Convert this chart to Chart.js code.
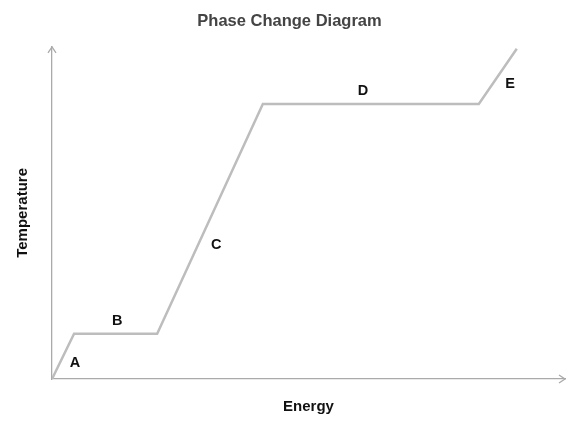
<!DOCTYPE html>
<html><head><meta charset="utf-8">
<script src="https://cdn.jsdelivr.net/npm/chart.js@4"></script>
<style>html,body{margin:0;padding:0;background:#fff}#wrap{width:574px;height:433px}</style>
</head><body><div id="wrap"><canvas id="c"></canvas></div>
<script>
const energy = [0, 4.3, 20.5, 41.1, 83.2, 90.6];
const temperature = [0, 13.6, 13.6, 82.8, 82.8, 99.4];
const labelText = ['A', 'B', 'C', 'D', 'E'];
const labelX = [4.5, 12.7, 32.0, 60.6, 89.3];
const labelY = [4.8, 17.5, 40.4, 86.7, 88.9];

const FONT = "'Liberation Sans', Arial, sans-serif";

const overlay = {
  id: 'overlay',
  afterDraw(chart) {
    const ctx = chart.ctx, x = chart.scales.x, y = chart.scales.y;
    const a = chart.chartArea;
    ctx.save();
    ctx.strokeStyle = '#aaaaaa';
    ctx.lineWidth = 1.3;
    ctx.beginPath();
    ctx.moveTo(a.left - 4, a.top + 6); ctx.lineTo(a.left, a.top); ctx.lineTo(a.left + 4, a.top + 6);
    ctx.moveTo(a.right - 6, a.bottom - 4); ctx.lineTo(a.right, a.bottom); ctx.lineTo(a.right - 6, a.bottom + 4);
    ctx.stroke();
    ctx.fillStyle = '#111';
    ctx.font = "bold 14.5px " + FONT;
    ctx.textAlign = 'center';
    ctx.textBaseline = 'middle';
    labelText.forEach((t, i) => {
      ctx.fillText(t, x.getPixelForValue(labelX[i]), y.getPixelForValue(labelY[i]));
    });
    ctx.restore();
  }
};

new Chart(document.getElementById('c'), {
  type: 'line',
  data: {
    datasets: [{
      data: energy.map((v, i) => ({x: v, y: temperature[i]})),
      borderColor: '#bdbdbd',
      borderWidth: 2.5,
      pointRadius: 0,
      tension: 0,
      fill: false
    }]
  },
  options: {
    responsive: true,
    maintainAspectRatio: false,
    animation: false,
    layout: {padding: {left: 14, right: 9, top: 0, bottom: 0}},
    plugins: {
      legend: {display: false},
      tooltip: {enabled: false},
      title: {
        display: true,
        text: 'Phase Change Diagram',
        color: '#444444',
        font: {family: FONT, size: 16.5, weight: 'bold', lineHeight: 1.2},
        padding: {top: 12, bottom: 15}
      }
    },
    scales: {
      x: {
        type: 'linear', min: 0, max: 100,
        grid: {display: false, drawTicks: false},
        border: {display: true, color: '#aaaaaa', width: 1.3},
        ticks: {display: false},
        title: {display: true, text: 'Energy', color: '#111',
          font: {family: FONT, size: 15, weight: 'bold', lineHeight: 1.2}, padding: {top: 0, bottom: 17}},
        afterFit(s) { s.height = 54; }
      },
      y: {
        type: 'linear', min: 0, max: 100,
        grid: {display: false, drawTicks: false},
        border: {display: true, color: '#aaaaaa', width: 1.3},
        ticks: {display: false},
        title: {display: true, text: 'Temperature', color: '#111',
          font: {family: FONT, size: 15, weight: 'bold', lineHeight: 1.2}, padding: {top: 0, bottom: 0}},
        afterFit(s) { s.width = 38; }
      }
    }
  },
  plugins: [overlay]
});
</script></body></html>
